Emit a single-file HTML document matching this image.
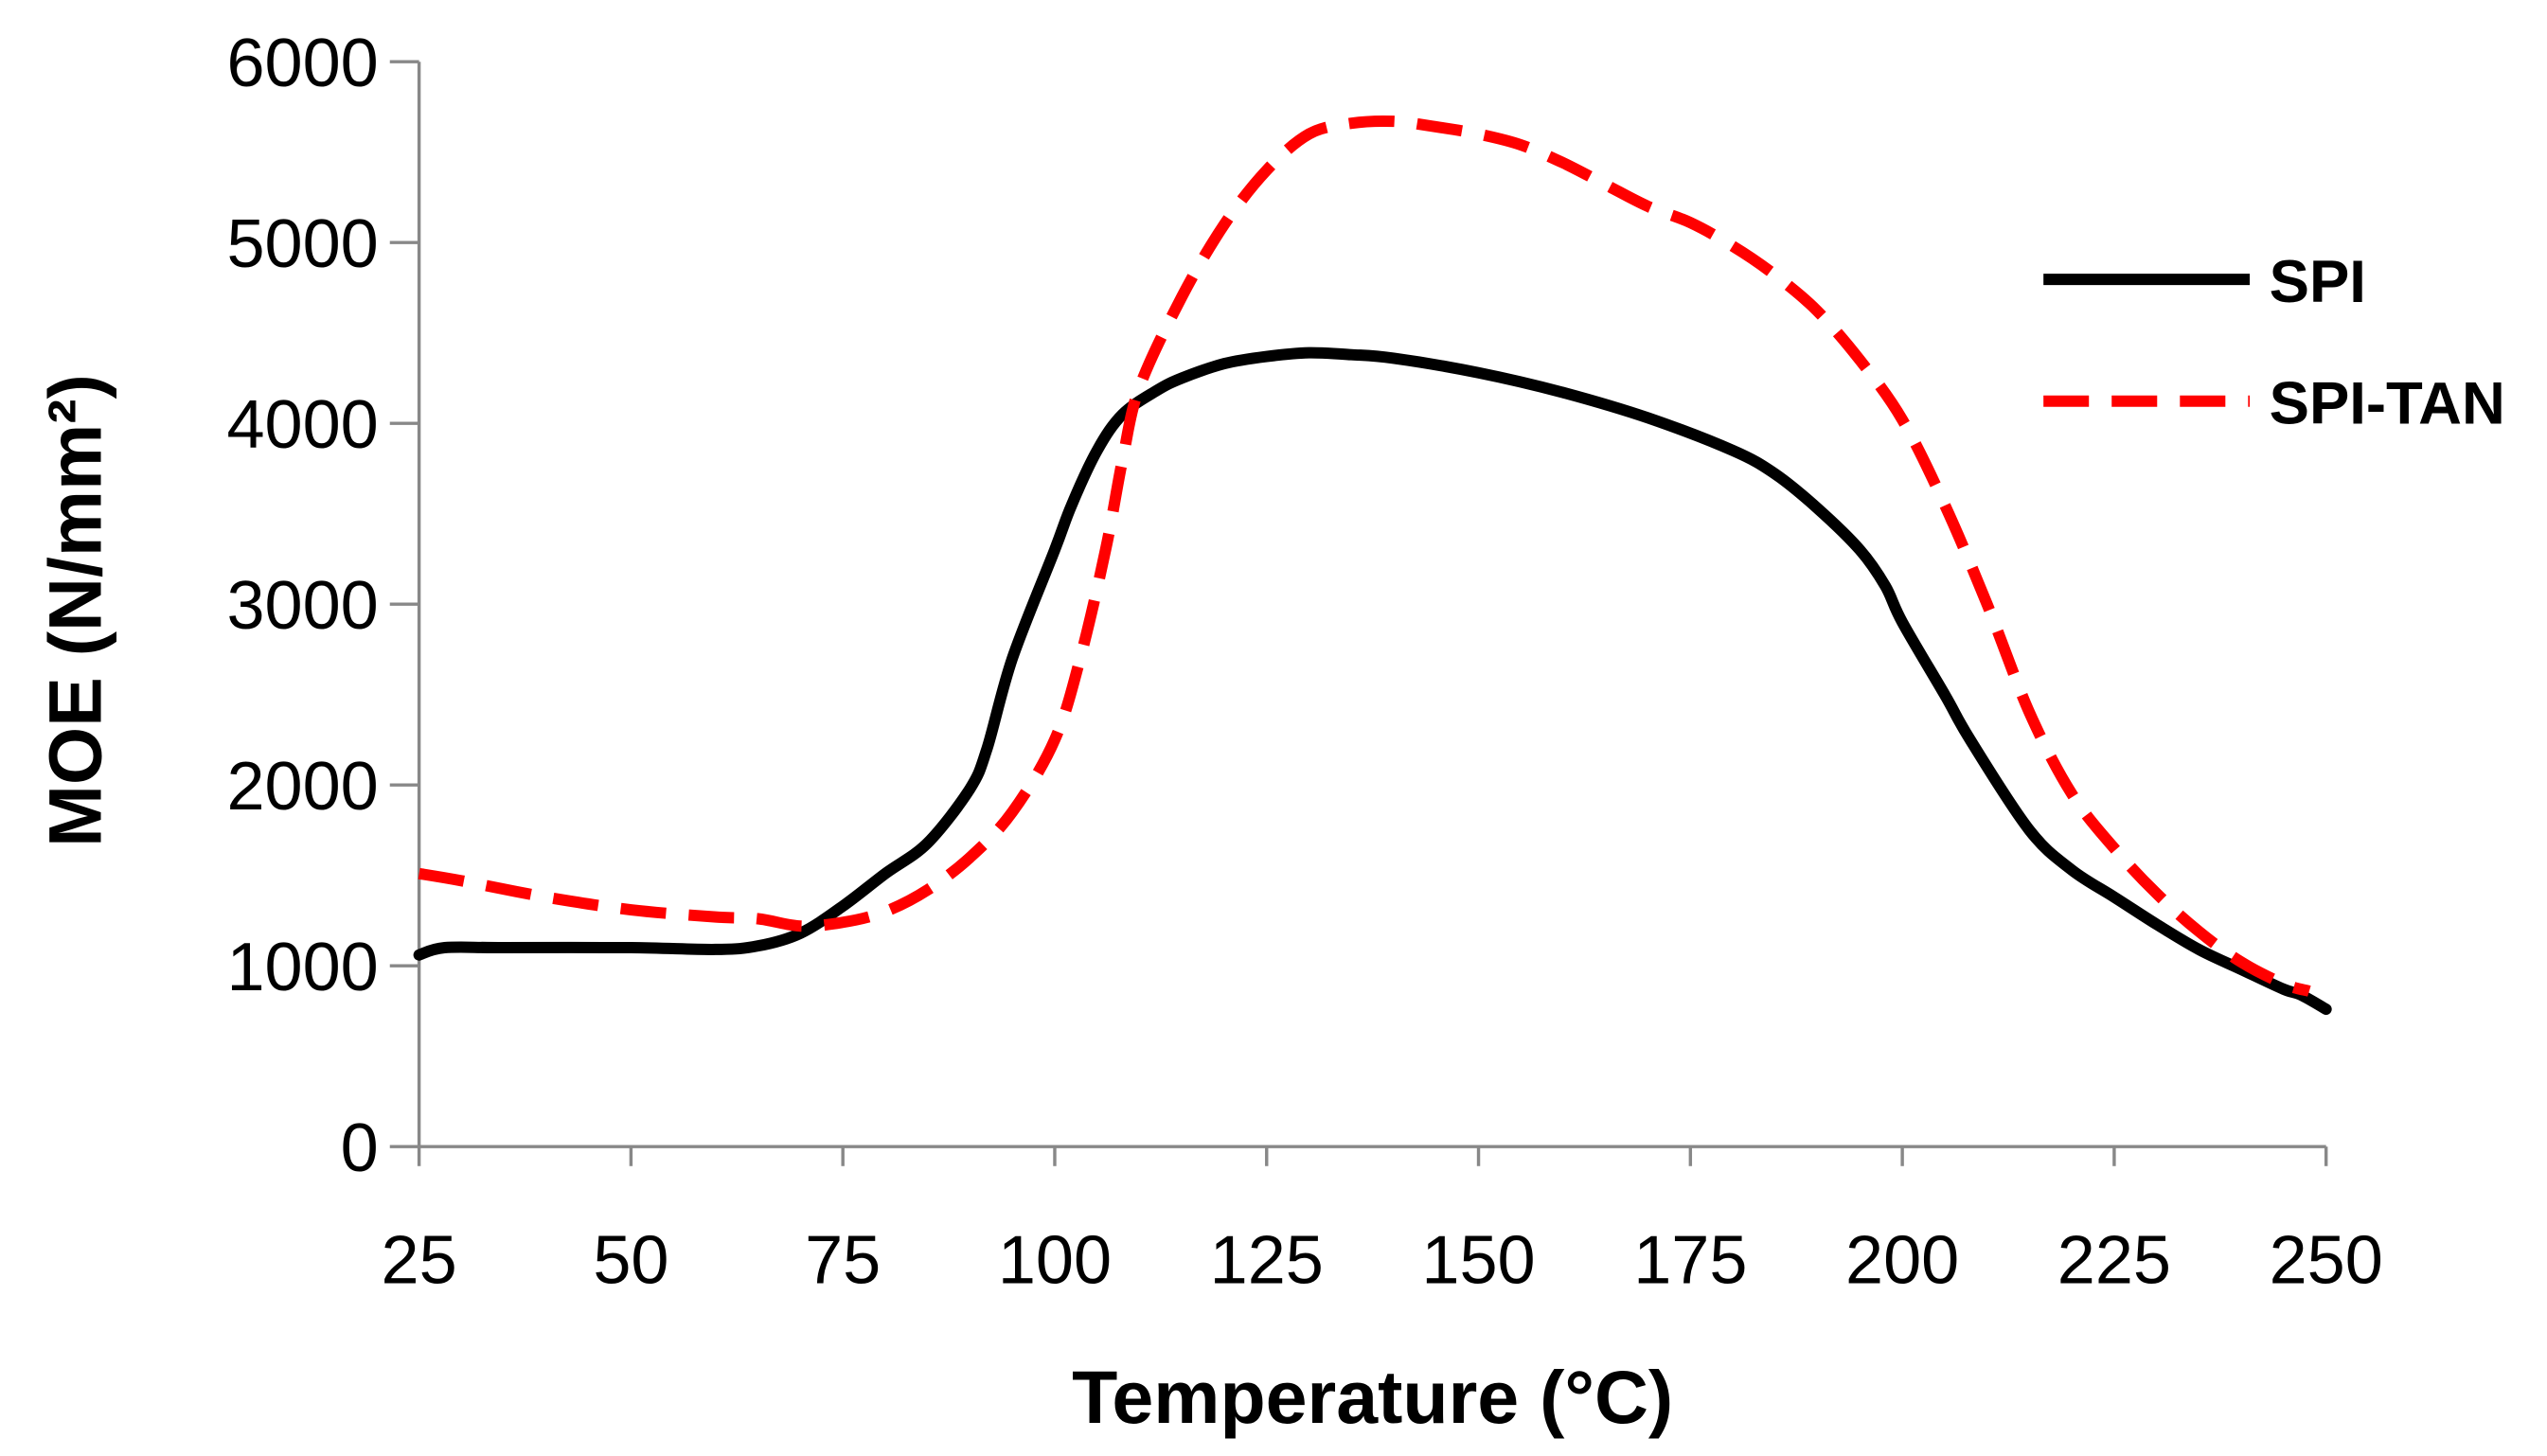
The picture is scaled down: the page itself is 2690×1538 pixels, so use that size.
<!DOCTYPE html>
<html><head><meta charset="utf-8"><style>
html,body{margin:0;padding:0;background:#fff;}
svg{display:block;}
</style></head><body>
<svg id="chart" width="2690" height="1538" viewBox="0 0 1568 896.5" preserveAspectRatio="none" xmlns="http://www.w3.org/2000/svg" font-family="'Liberation Sans', sans-serif">
<g id="axes"></g>
<g id="series"></g>
<g id="legend">
  <line x1="1258" y1="172" x2="1385" y2="172" stroke="#000" stroke-width="7"/>
  <text x="1397" y="186" font-size="37" font-weight="bold">SPI</text>
  <line x1="1258" y1="247" x2="1385" y2="247" stroke="#f00" stroke-width="7" stroke-dasharray="28,14"/>
  <text x="1397" y="261" font-size="37" font-weight="bold">SPI-TAN</text>
</g>
<text x="845" y="876" text-anchor="middle" font-size="46" font-weight="bold">Temperature (°C)</text>
<text transform="translate(62,376) rotate(-90)" text-anchor="middle" font-size="46" font-weight="bold">MOE (N/mm²)</text>
</svg>
<script>
const xTicks=[25,50,75,100,125,150,175,200,225,250];
const yTicks=[0,1000,2000,3000,4000,5000,6000];
const spiT=[25,28,35,50,60,65,70,75,80,85,90,92,95,100,102,105,108,112,115,120,125,130,135,140,150,160,170,180,185,190,195,198,200,205,208,215,220,225,230,235,240,245,247,250];
const spiV=[1060,1100,1100,1100,1090,1110,1180,1330,1510,1680,1980,2200,2700,3300,3550,3850,4050,4180,4250,4330,4370,4390,4380,4360,4280,4170,4030,3850,3720,3530,3300,3100,2900,2500,2250,1750,1530,1380,1230,1090,980,870,840,760];
const tanT=[25,30,40,50,60,65,70,75,80,85,90,95,100,103,106,108,110,115,120,125,130,135,140,145,150,155,160,165,170,175,180,185,190,195,200,205,210,215,220,225,230,235,240,245,248];
const tanV=[1510,1470,1380,1310,1270,1260,1220,1240,1300,1420,1600,1850,2250,2700,3300,3800,4200,4700,5100,5400,5600,5660,5670,5640,5600,5540,5440,5320,5200,5110,4980,4820,4620,4350,4020,3550,3000,2400,1950,1650,1400,1190,1020,900,860];
const NS="http://www.w3.org/2000/svg";
const X=t=>258+(t-25)*(1432-258)/225;
const Y=v=>706-v*(706-38)/6000;
function mk(tag,attrs,parent){const e=document.createElementNS(NS,tag);for(const k in attrs)e.setAttribute(k,attrs[k]);parent.appendChild(e);return e;}
const axes=document.getElementById('axes');
const ya=mk('line',{x1:258,y1:38,x2:258,y2:706,stroke:'#888','stroke-width':2},axes);


const xa=mk('line',{x1:258,y1:706,x2:1432,y2:706,stroke:'#888','stroke-width':2},axes);


yTicks.forEach(v=>{
  const tk=mk('line',{x1:240,y1:Y(v),x2:258,y2:Y(v),stroke:'#888','stroke-width':2},axes);
  
  
  const tx=mk('text',{x:233,y:Y(v)+15,'text-anchor':'end','font-size':42},axes);
  tx.textContent=v;
  
  
});
xTicks.forEach(t=>{
  const tk=mk('line',{x1:X(t),y1:706,x2:X(t),y2:718,stroke:'#888','stroke-width':2},axes);
  
  
  const tx=mk('text',{x:X(t),y:790,'text-anchor':'middle','font-size':42},axes);
  tx.textContent=t;
  
  
});
const ser=document.getElementById('series');
function path(ts,vs){
  const p=ts.map((t,i)=>[X(t),Y(vs[i])]);
  let d='M'+p[0][0].toFixed(1)+','+p[0][1].toFixed(1);
  for(let i=0;i<p.length-1;i++){
    const p0=p[i-1]||p[i],p1=p[i],p2=p[i+1],p3=p[i+2]||p2;
    const c1=[p1[0]+(p2[0]-p0[0])/6,p1[1]+(p2[1]-p0[1])/6];
    const c2=[p2[0]-(p3[0]-p1[0])/6,p2[1]-(p3[1]-p1[1])/6];
    d+=' C'+c1.map(n=>n.toFixed(1)).join(',')+' '+c2.map(n=>n.toFixed(1)).join(',')+' '+p2.map(n=>n.toFixed(1)).join(',');
  }
  return d;
}
const p1=mk('path',{d:path(spiT,spiV),fill:'none',stroke:'#000','stroke-width':7,'stroke-linejoin':'round','stroke-linecap':'round'},ser);


const p2=mk('path',{d:path(tanT,tanV),fill:'none',stroke:'#f00','stroke-width':7,'stroke-dasharray':'28,14','stroke-linejoin':'round'},ser);


</script>
</body></html>
